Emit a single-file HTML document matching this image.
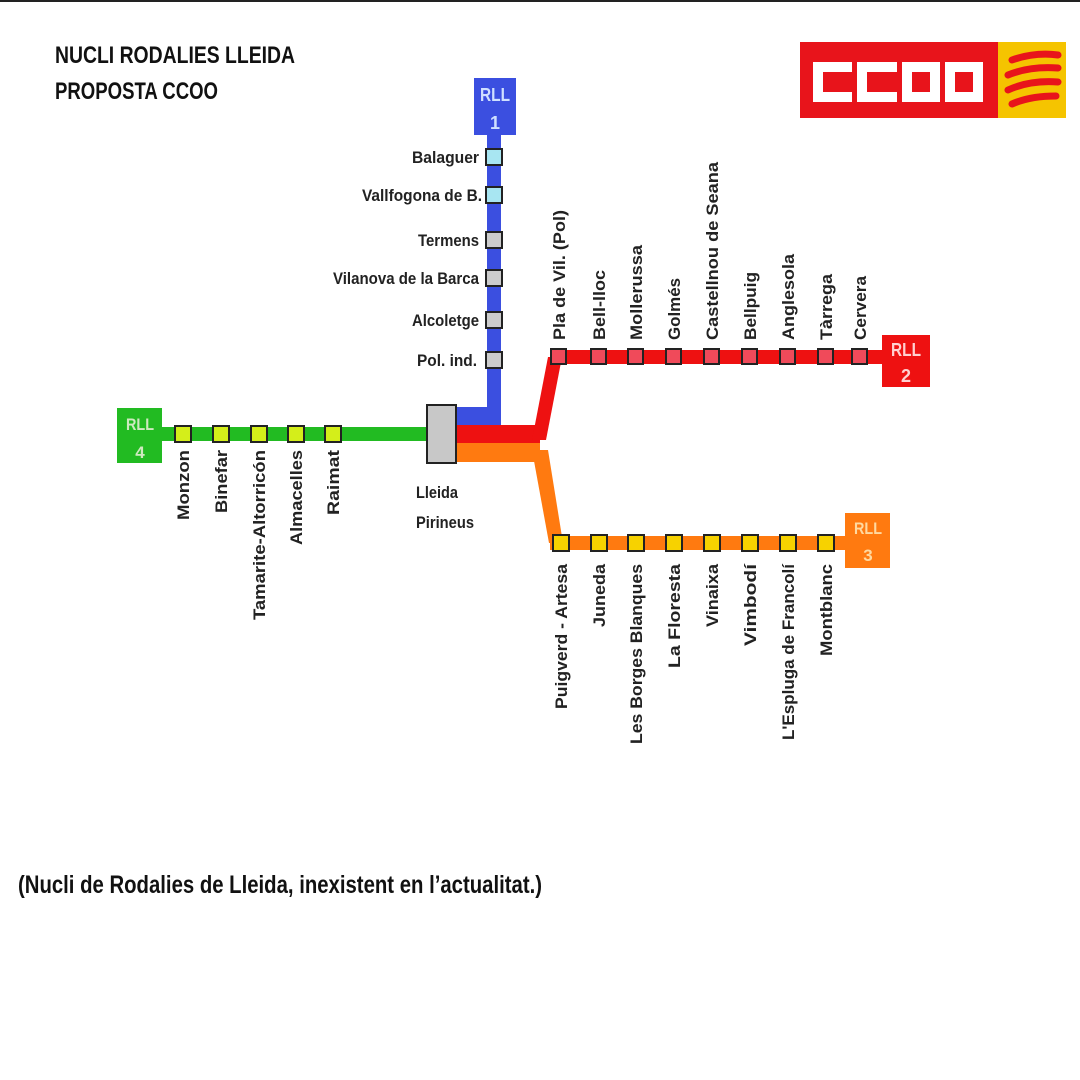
<!DOCTYPE html>
<html><head><meta charset="utf-8"><style>
html,body{margin:0;padding:0;background:#fff;}
svg{display:block;}
text{font-family:"Liberation Sans Narrow","Liberation Sans",sans-serif;font-weight:bold;}
</style></head><body>
<svg width="1080" height="1080" viewBox="0 0 1080 1080" xmlns="http://www.w3.org/2000/svg">
<rect x="0" y="0" width="1080" height="2" fill="#222"/>
<text x="55" y="63" font-size="24" fill="#111" textLength="240" lengthAdjust="spacingAndGlyphs">NUCLI RODALIES LLEIDA</text>
<text x="55" y="99" font-size="24" fill="#111" textLength="163" lengthAdjust="spacingAndGlyphs">PROPOSTA CCOO</text>

<!-- logo -->
<rect x="800" y="42" width="200" height="76" fill="#e8141b"/>
<rect x="998" y="42" width="68" height="76" fill="#f5c400"/>
<g fill="none" stroke="#fff" stroke-width="10">
<path d="M852 67 H818 V97 H852"/>
<path d="M897 67 H862 V97 H897"/>
<rect x="907" y="67" width="28" height="30"/>
<rect x="950" y="67" width="28" height="30"/>
</g>
<g stroke="#e8141b" stroke-width="7" stroke-linecap="round" fill="none">
<path d="M1012 60 Q1035 52 1058 55"/><path d="M1008 75 Q1030 66 1058 68"/><path d="M1008 90 Q1030 80 1058 82"/><path d="M1012 104 Q1030 96 1056 96"/>
</g>

<!-- blue line -->
<rect x="474" y="78" width="42" height="57" fill="#3b4fe0"/>
<text x="495" y="101" font-size="18" fill="#cfe0ff" text-anchor="middle" textLength="30" lengthAdjust="spacingAndGlyphs">RLL</text>
<text x="495" y="129" font-size="18" fill="#cfe0ff" text-anchor="middle">1</text>
<rect x="487" y="130" width="14" height="295" fill="#3b4fe0"/>
<rect x="455" y="407" width="46" height="18" fill="#3b4fe0"/>

<!-- green line -->
<rect x="140" y="427" width="290" height="14" fill="#22bb22"/>
<rect x="117" y="408" width="45" height="55" fill="#22bb22"/>
<text x="140" y="430" font-size="17" fill="#cfe9c0" text-anchor="middle" textLength="28" lengthAdjust="spacingAndGlyphs">RLL</text>
<text x="140" y="458" font-size="17" fill="#cfe9c0" text-anchor="middle">4</text>

<!-- red line -->
<rect x="455" y="425" width="85" height="18" fill="#ee1111"/>
<path d="M532 440 L548 357 L562 357 L546 440 Z" fill="#ee1111"/>
<rect x="550" y="350" width="335" height="14" fill="#ee1111"/>
<rect x="882" y="335" width="48" height="52" fill="#ee1111"/>
<text x="906" y="356" font-size="18" fill="#ffd0d0" text-anchor="middle" textLength="30" lengthAdjust="spacingAndGlyphs">RLL</text>
<text x="906" y="382" font-size="18" fill="#ffd0d0" text-anchor="middle">2</text>

<!-- orange line -->
<rect x="455" y="443" width="85" height="19" fill="#ff7a10"/>
<path d="M532 450 L548 450 L563 543 L549 543 Z" fill="#ff7a10"/>
<rect x="550" y="536" width="298" height="14" fill="#ff7a10"/>
<rect x="845" y="513" width="45" height="55" fill="#ff7a10"/>
<text x="868" y="534" font-size="17" fill="#ffd9a0" text-anchor="middle" textLength="28" lengthAdjust="spacingAndGlyphs">RLL</text>
<text x="868" y="561" font-size="17" fill="#ffd9a0" text-anchor="middle">3</text>

<!-- Lleida box -->
<rect x="427" y="405" width="29" height="58" fill="#c8c8c8" stroke="#222" stroke-width="2"/>
<text x="416" y="498" font-size="17" fill="#222" textLength="42" lengthAdjust="spacingAndGlyphs">Lleida</text>
<text x="416" y="528" font-size="17" fill="#222" textLength="58" lengthAdjust="spacingAndGlyphs">Pirineus</text>

<!-- blue stations -->
<g stroke="#222" stroke-width="2">
<rect x="486" y="149" width="16" height="16" fill="#a8e6f2"/>
<rect x="486" y="187" width="16" height="16" fill="#a8e6f2"/>
<rect x="486" y="232" width="16" height="16" fill="#ccc"/>
<rect x="486" y="270" width="16" height="16" fill="#ccc"/>
<rect x="486" y="312" width="16" height="16" fill="#ccc"/>
<rect x="486" y="352" width="16" height="16" fill="#ccc"/>
</g>
<g font-size="17" fill="#222" text-anchor="end" lengthAdjust="spacingAndGlyphs">
<text x="479" y="163" textLength="67" lengthAdjust="spacingAndGlyphs">Balaguer</text>
<text x="482" y="201" textLength="120" lengthAdjust="spacingAndGlyphs">Vallfogona de B.</text>
<text x="479" y="246" textLength="61" lengthAdjust="spacingAndGlyphs">Termens</text>
<text x="479" y="284" textLength="146" lengthAdjust="spacingAndGlyphs">Vilanova de la Barca</text>
<text x="479" y="326" textLength="67" lengthAdjust="spacingAndGlyphs">Alcoletge</text>
<text x="477" y="366" textLength="60" lengthAdjust="spacingAndGlyphs">Pol. ind.</text>
</g>

<!-- green stations -->
<g stroke="#222" stroke-width="2" fill="#d4ee1a">
<rect x="175" y="426" width="16" height="16"/><rect x="213" y="426" width="16" height="16"/><rect x="251" y="426" width="16" height="16"/><rect x="288" y="426" width="16" height="16"/><rect x="325" y="426" width="16" height="16"/>
</g>
<g font-size="17" fill="#222" text-anchor="end">
<text transform="translate(189,450) rotate(-90)" textLength="70" lengthAdjust="spacingAndGlyphs">Monzon</text>
<text transform="translate(227,450) rotate(-90)" textLength="63" lengthAdjust="spacingAndGlyphs">Binefar</text>
<text transform="translate(265,450) rotate(-90)" textLength="170" lengthAdjust="spacingAndGlyphs">Tamarite-Altorricón</text>
<text transform="translate(302,450) rotate(-90)" textLength="95" lengthAdjust="spacingAndGlyphs">Almacelles</text>
<text transform="translate(339,450) rotate(-90)" textLength="65" lengthAdjust="spacingAndGlyphs">Raimat</text>
</g>

<!-- red stations -->
<g stroke="#222" stroke-width="2" fill="#f04a5a">
<rect x="551" y="349" width="15" height="15"/><rect x="591" y="349" width="15" height="15"/><rect x="628" y="349" width="15" height="15"/><rect x="666" y="349" width="15" height="15"/><rect x="704" y="349" width="15" height="15"/><rect x="742" y="349" width="15" height="15"/><rect x="780" y="349" width="15" height="15"/><rect x="818" y="349" width="15" height="15"/><rect x="852" y="349" width="15" height="15"/>
</g>
<g font-size="17" fill="#222">
<text transform="translate(565,340) rotate(-90)" textLength="130" lengthAdjust="spacingAndGlyphs">Pla de Vil. (Pol)</text>
<text transform="translate(605,340) rotate(-90)" textLength="70" lengthAdjust="spacingAndGlyphs">Bell-lloc</text>
<text transform="translate(642,340) rotate(-90)" textLength="95" lengthAdjust="spacingAndGlyphs">Mollerussa</text>
<text transform="translate(680,340) rotate(-90)" textLength="62" lengthAdjust="spacingAndGlyphs">Golmés</text>
<text transform="translate(718,340) rotate(-90)" textLength="178" lengthAdjust="spacingAndGlyphs">Castellnou de Seana</text>
<text transform="translate(756,340) rotate(-90)" textLength="68" lengthAdjust="spacingAndGlyphs">Bellpuig</text>
<text transform="translate(794,340) rotate(-90)" textLength="86" lengthAdjust="spacingAndGlyphs">Anglesola</text>
<text transform="translate(832,340) rotate(-90)" textLength="66" lengthAdjust="spacingAndGlyphs">Tàrrega</text>
<text transform="translate(866,340) rotate(-90)" textLength="64" lengthAdjust="spacingAndGlyphs">Cervera</text>
</g>

<!-- orange stations -->
<g stroke="#222" stroke-width="2" fill="#f7d200">
<rect x="553" y="535" width="16" height="16"/><rect x="591" y="535" width="16" height="16"/><rect x="628" y="535" width="16" height="16"/><rect x="666" y="535" width="16" height="16"/><rect x="704" y="535" width="16" height="16"/><rect x="742" y="535" width="16" height="16"/><rect x="780" y="535" width="16" height="16"/><rect x="818" y="535" width="16" height="16"/>
</g>
<g font-size="17" fill="#222" text-anchor="end">
<text transform="translate(567,564) rotate(-90)" textLength="145" lengthAdjust="spacingAndGlyphs">Puigverd - Artesa</text>
<text transform="translate(605,564) rotate(-90)" textLength="63" lengthAdjust="spacingAndGlyphs">Juneda</text>
<text transform="translate(642,564) rotate(-90)" textLength="180" lengthAdjust="spacingAndGlyphs">Les Borges Blanques</text>
<text transform="translate(680,564) rotate(-90)" textLength="104" lengthAdjust="spacingAndGlyphs">La Floresta</text>
<text transform="translate(718,564) rotate(-90)" textLength="63" lengthAdjust="spacingAndGlyphs">Vinaixa</text>
<text transform="translate(756,564) rotate(-90)" textLength="82" lengthAdjust="spacingAndGlyphs">Vimbodí</text>
<text transform="translate(794,564) rotate(-90)" textLength="176" lengthAdjust="spacingAndGlyphs">L'Espluga de Francolí</text>
<text transform="translate(832,564) rotate(-90)" textLength="92" lengthAdjust="spacingAndGlyphs">Montblanc</text>
</g>

<text x="18" y="893" font-size="25" fill="#111" textLength="524" lengthAdjust="spacingAndGlyphs">(Nucli de Rodalies de Lleida, inexistent en l’actualitat.)</text>
</svg>
</body></html>
